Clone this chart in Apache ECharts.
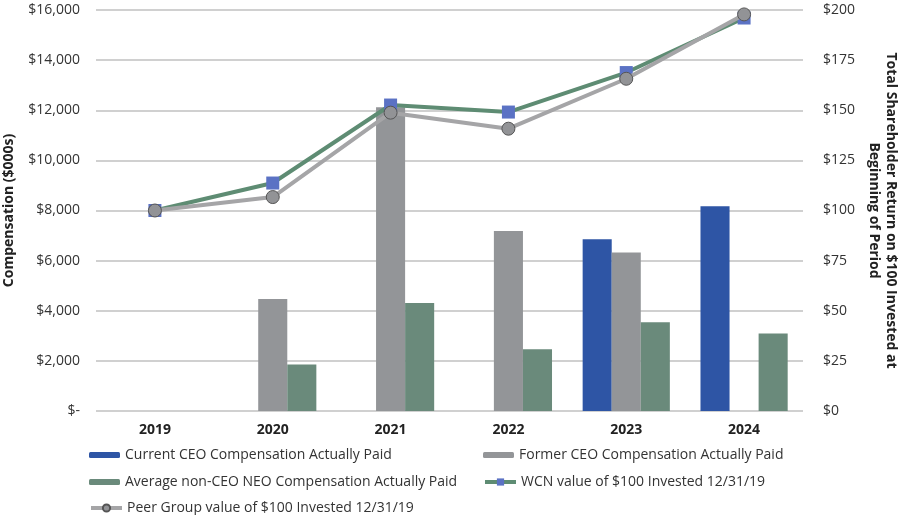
<!DOCTYPE html>
<html><head><meta charset="utf-8">
<script src="https://cdn.jsdelivr.net/npm/echarts@6/dist/echarts.min.js"></script>
<style>html,body{margin:0;padding:0;background:#fff}#c{width:900px;height:515px}</style>
</head><body><div id="c"></div>
<script>
const years = ['2019','2020','2021','2022','2023','2024'];
const currentCEO = [null, null, null, null, 6850, 8170];
const formerCEO = [null, 4470, 12120, 7180, 6320, null];
const nonCEO = [null, 1860, 4310, 2460, 3540, 3090];
const wcnTSR = [100, 113.7, 152.6, 149.1, 168.8, 196.0];
const peerTSR = [100, 106.7, 148.8, 140.8, 165.7, 197.8];
const leftTicks = [0, 2000, 4000, 6000, 8000, 10000, 12000, 14000, 16000];
const rightTicks = [0, 25, 50, 75, 100, 125, 150, 175, 200];

const names = ['Current CEO Compensation Actually Paid','Former CEO Compensation Actually Paid','Average non-CEO NEO Compensation Actually Paid','WCN value of $100 Invested 12/31/19','Peer Group value of $100 Invested 12/31/19'];
const legFont = {fontFamily:'"Open Sans",sans-serif', fontSize:14, color:'#333'};
const legPos = [[89,448],[483,448],[89,475],[483,475],[89,501]];
const isLine = [false,false,false,true,true];
const legends = names.map((n,i)=>({data:[n], left:legPos[i][0], top:legPos[i][1], itemWidth:31,
  itemHeight: isLine[i] ? 9 : 6, itemGap:4, textStyle:legFont, padding:0, selectedMode:false,
  lineStyle: isLine[i] ? {width:4} : undefined}));

const chart = echarts.init(document.getElementById('c'));
chart.setOption({
  animation:false,
  textStyle:{fontFamily:'"Open Sans",sans-serif'},
  grid:{left:96, right:97, top:10, bottom:104, outerBoundsMode:'none', containLabel:false},
  legend: legends,
  xAxis:{type:'category', data:years, axisTick:{show:false}, axisLine:{show:false},
    axisLabel:{fontWeight:'bold', fontSize:14, color:'#222', margin:12}},
  yAxis:[
    {type:'value', min:leftTicks[0], max:leftTicks[leftTicks.length-1], interval:2000,
     name:'Compensation ($000s)', nameLocation:'middle', nameGap:80, nameRotate:90,
     nameTextStyle:{fontWeight:'bold', fontSize:14, color:'#222'},
     axisLabel:{fontSize:14, color:'#333', margin:16, formatter:v=> v===0 ? '$-' : '$'+v.toLocaleString('en-US')},
     splitLine:{lineStyle:{color:'#c0c0c0', width:1.5}}, axisLine:{show:false}, axisTick:{show:false}},
    {type:'value', min:rightTicks[0], max:rightTicks[rightTicks.length-1], interval:25, position:'right',
     name:'Total Shareholder Return on $100 Invested at\nBeginning of Period', nameLocation:'middle', nameGap:62, nameRotate:-90,
     nameTextStyle:{fontWeight:'bold', fontSize:14, color:'#222', lineHeight:17, align:'center'},
     axisLabel:{fontSize:14, color:'#333', margin:20, formatter:v=>'$'+v},
     splitLine:{show:false}, axisLine:{show:false}, axisTick:{show:false}}
  ],
  series:[
    {name:names[0], type:'bar', data:currentCEO, itemStyle:{color:'#2E55A5'}, barGap:'0%', barCategoryGap:'26%'},
    {name:names[1], type:'bar', data:formerCEO, itemStyle:{color:'#939598'}},
    {name:names[2], type:'bar', data:nonCEO, itemStyle:{color:'#6A8A7B'}},
    {name:names[3], type:'line', yAxisIndex:1, data:wcnTSR, symbol:'rect', symbolSize:13,
     lineStyle:{color:'#5E8C73', width:4}, itemStyle:{color:'#5B72C4'}, z:3},
    {name:names[4], type:'line', yAxisIndex:1, data:peerTSR, symbol:'circle', symbolSize:13,
     lineStyle:{color:'#A5A5A7', width:4}, itemStyle:{color:'#929396', borderColor:'#555', borderWidth:1}, z:4}
  ]
});
</script></body></html>
